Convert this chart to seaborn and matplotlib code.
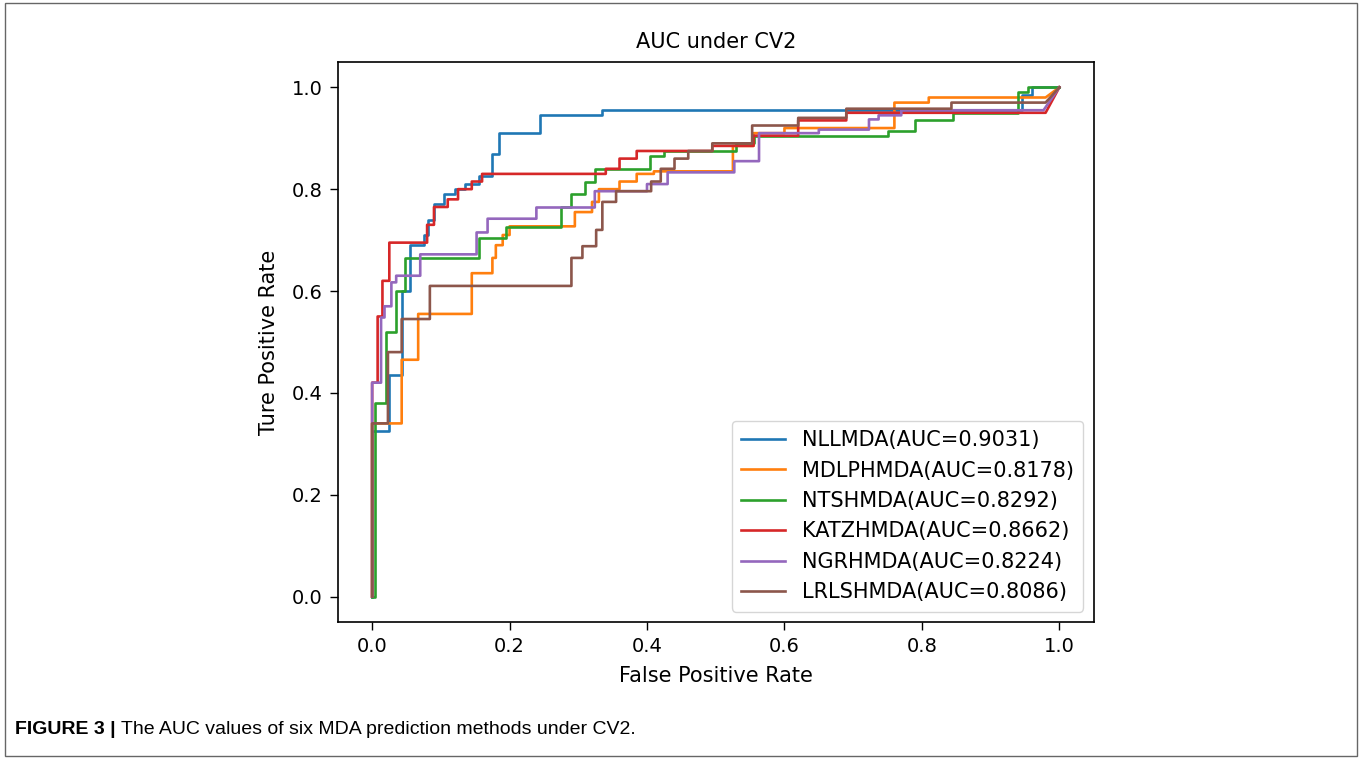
import numpy as np
import pandas as pd
import seaborn as sns
import matplotlib.pyplot as plt
from matplotlib.patches import Rectangle

# ROC points (fpr, tpr)
nll_fpr = [0, 0, 0.025, 0.025, 0.043, 0.043, 0.055, 0.055, 0.075, 0.075, 0.082, 0.082, 0.09, 0.09,
           0.105, 0.105, 0.12, 0.12, 0.135, 0.135, 0.155, 0.155, 0.175, 0.175, 0.185, 0.185,
           0.245, 0.245, 0.335, 0.335, 0.945, 0.945, 0.96, 0.96, 1.0]
nll_tpr = [0, 0.325, 0.325, 0.435, 0.435, 0.60, 0.60, 0.69, 0.69, 0.71, 0.71, 0.74, 0.74, 0.77,
           0.77, 0.79, 0.79, 0.80, 0.80, 0.81, 0.81, 0.825, 0.825, 0.87, 0.87, 0.91,
           0.91, 0.945, 0.945, 0.955, 0.955, 0.985, 0.985, 1.0, 1.0]

mdl_fpr = [0, 0, 0.043, 0.043, 0.067, 0.067, 0.145, 0.145, 0.175, 0.175, 0.18, 0.18, 0.19, 0.19,
           0.2, 0.2, 0.295, 0.295, 0.32, 0.32, 0.33, 0.33, 0.36, 0.36, 0.385, 0.385, 0.41, 0.41,
           0.525, 0.525, 0.555, 0.555, 0.6, 0.6, 0.76, 0.76, 0.81, 0.81, 0.98, 1.0]
mdl_tpr = [0, 0.34, 0.34, 0.465, 0.465, 0.555, 0.555, 0.635, 0.635, 0.665, 0.665, 0.69, 0.69, 0.71,
           0.71, 0.727, 0.727, 0.755, 0.755, 0.775, 0.775, 0.80, 0.80, 0.815, 0.815, 0.83, 0.83, 0.835,
           0.835, 0.885, 0.885, 0.91, 0.91, 0.92, 0.92, 0.97, 0.97, 0.98, 0.98, 1.0]

nts_fpr = [0, 0.004, 0.004, 0.02, 0.02, 0.035, 0.035, 0.048, 0.048, 0.155, 0.155, 0.195, 0.195,
           0.275, 0.275, 0.29, 0.29, 0.31, 0.31, 0.325, 0.325, 0.405, 0.405, 0.425, 0.425, 0.53, 0.53,
           0.555, 0.555, 0.75, 0.75, 0.79, 0.79, 0.845, 0.845, 0.94, 0.94, 0.955, 0.955, 1.0]
nts_tpr = [0, 0, 0.38, 0.38, 0.52, 0.52, 0.60, 0.60, 0.665, 0.665, 0.705, 0.705, 0.725,
           0.725, 0.765, 0.765, 0.79, 0.79, 0.815, 0.815, 0.84, 0.84, 0.865, 0.865, 0.875, 0.875, 0.89,
           0.89, 0.905, 0.905, 0.915, 0.915, 0.935, 0.935, 0.95, 0.95, 0.99, 0.99, 1.0, 1.0]

katz_fpr = [0, 0, 0.008, 0.008, 0.015, 0.015, 0.025, 0.025, 0.08, 0.08, 0.09, 0.09, 0.11, 0.11,
            0.125, 0.125, 0.145, 0.145, 0.16, 0.16, 0.34, 0.34, 0.36, 0.36, 0.385, 0.385, 0.495, 0.495,
            0.555, 0.555, 0.62, 0.62, 0.69, 0.69, 0.98, 1.0]
katz_tpr = [0, 0.42, 0.42, 0.55, 0.55, 0.62, 0.62, 0.695, 0.695, 0.73, 0.73, 0.765, 0.765, 0.78,
            0.78, 0.80, 0.80, 0.815, 0.815, 0.83, 0.83, 0.84, 0.84, 0.86, 0.86, 0.875, 0.875, 0.885,
            0.885, 0.905, 0.905, 0.935, 0.935, 0.95, 0.95, 1.0]

ngr_fpr = [0, 0, 0.013, 0.013, 0.018, 0.018, 0.028, 0.028, 0.035, 0.035, 0.07, 0.07, 0.152, 0.152,
           0.168, 0.168, 0.239, 0.239, 0.324, 0.324, 0.40, 0.40, 0.43, 0.43, 0.527, 0.527, 0.563, 0.563,
           0.65, 0.65, 0.723, 0.723, 0.737, 0.737, 0.77, 0.77, 0.977, 1.0]
ngr_tpr = [0, 0.42, 0.42, 0.548, 0.548, 0.57, 0.57, 0.617, 0.617, 0.63, 0.63, 0.672, 0.672, 0.715,
           0.715, 0.742, 0.742, 0.764, 0.764, 0.796, 0.796, 0.81, 0.81, 0.833, 0.833, 0.855, 0.855, 0.91,
           0.91, 0.917, 0.917, 0.937, 0.937, 0.945, 0.945, 0.955, 0.955, 1.0]

lrl_fpr = [0, 0, 0.023, 0.023, 0.043, 0.043, 0.084, 0.084, 0.29, 0.29, 0.306, 0.306, 0.326, 0.326,
           0.335, 0.335, 0.355, 0.355, 0.406, 0.406, 0.42, 0.42, 0.44, 0.44, 0.46, 0.46, 0.495, 0.495,
           0.553, 0.553, 0.62, 0.62, 0.69, 0.69, 0.843, 0.843, 0.98, 1.0]
lrl_tpr = [0, 0.34, 0.34, 0.48, 0.48, 0.545, 0.545, 0.61, 0.61, 0.665, 0.665, 0.688, 0.688, 0.72,
           0.72, 0.775, 0.775, 0.796, 0.796, 0.815, 0.815, 0.84, 0.84, 0.86, 0.86, 0.875, 0.875, 0.89,
           0.89, 0.925, 0.925, 0.94, 0.94, 0.958, 0.958, 0.97, 0.97, 1.0]

methods = ['NLLMDA', 'MDLPHMDA', 'NTSHMDA', 'KATZHMDA', 'NGRHMDA', 'LRLSHMDA']
aucs = [0.9031, 0.8178, 0.8292, 0.8662, 0.8224, 0.8086]
curves = [(nll_fpr, nll_tpr), (mdl_fpr, mdl_tpr), (nts_fpr, nts_tpr),
          (katz_fpr, katz_tpr), (ngr_fpr, ngr_tpr), (lrl_fpr, lrl_tpr)]

colors = sns.color_palette('tab10', 6)

fig = plt.figure(figsize=(13.62, 7.59), dpi=100)
ax = fig.add_axes([0.248, 0.1805, 0.555, 0.738])

for (fpr, tpr), name, auc, c in zip(curves, methods, aucs, colors):
    df = pd.DataFrame({'fpr': fpr, 'tpr': tpr})
    sns.lineplot(data=df, x='fpr', y='tpr', sort=False, estimator=None, ax=ax,
                 color=c, linewidth=1.9, label='%s(AUC=%.4f)' % (name, auc))

ax.set_xlim(-0.05, 1.05)
ax.set_ylim(-0.05, 1.05)
ax.set_xticks([0, 0.2, 0.4, 0.6, 0.8, 1.0])
ax.set_yticks([0, 0.2, 0.4, 0.6, 0.8, 1.0])
ax.tick_params(labelsize=14, length=6, width=1, pad=5)
ax.set_xlabel('False Positive Rate', fontsize=15, labelpad=7)
ax.set_ylabel('Ture Positive Rate', fontsize=15, labelpad=9)
ax.set_title('AUC under CV2', fontsize=15, pad=10)
for s in ax.spines.values():
    s.set_linewidth(1.2)
ax.legend(loc='lower right', fontsize=15, handlelength=2.1, borderpad=0.45,
          labelspacing=0.5, handletextpad=0.8)

# outer frame and caption
fig.patches.append(Rectangle((0.004, 0.004), 0.992, 0.992, transform=fig.transFigure,
                             fill=False, edgecolor='#666666', linewidth=1))
cap_font = ['Liberation Sans Narrow', 'Liberation Sans', 'DejaVu Sans']
t1 = fig.text(0.011, 0.033, 'FIGURE 3 |', fontsize=14, fontweight='bold', family=cap_font)
fig.canvas.draw()
bb = t1.get_window_extent()
fig.text((bb.x1 + 5) / fig.bbox.width, 0.033, 'The AUC values of six MDA prediction methods under CV2.',
         fontsize=14, family=cap_font)

fig.savefig('out.png', dpi=100)
